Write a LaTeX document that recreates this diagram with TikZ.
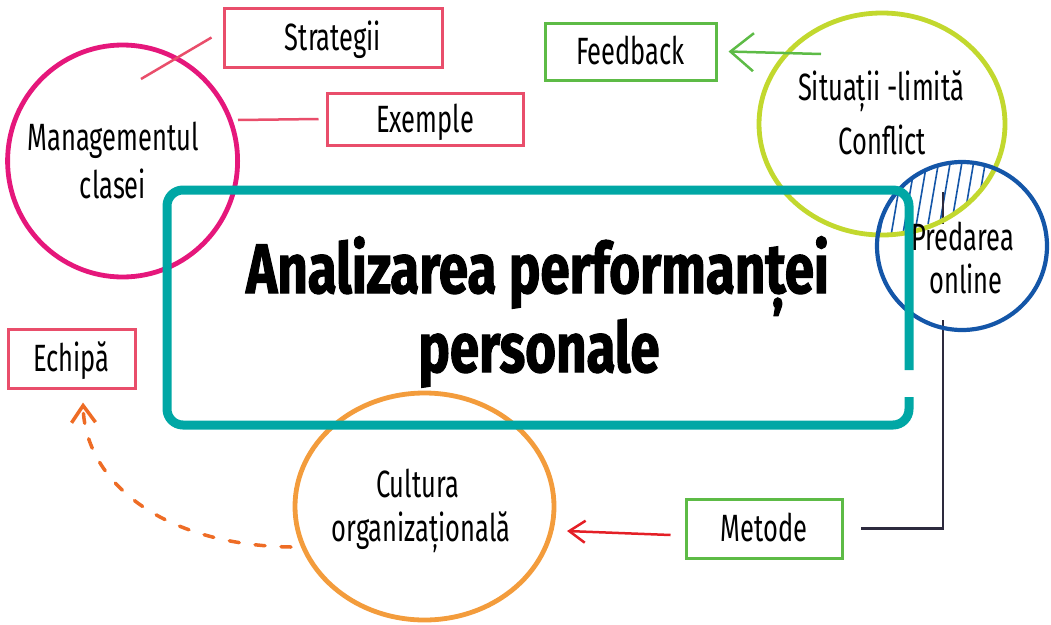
\documentclass[tikz,border=0pt]{standalone}
\usepackage{fontspec}
\usetikzlibrary{shapes.geometric,arrows.meta}
\newfontfamily\lab{Fira Sans}[FakeStretch=0.67]
\newfontfamily\ttl{Fira Sans}[FakeStretch=0.755, FakeBold=1.5]
\definecolor{magC}{HTML}{E5177B}
\definecolor{pinkC}{HTML}{E94E6B}
\definecolor{tealC}{HTML}{00A7A5}
\definecolor{limeC}{HTML}{C2D82E}
\definecolor{blueC}{HTML}{1456A8}
\definecolor{greenC}{HTML}{5DBB46}
\definecolor{orangeC}{HTML}{F39C3C}
\definecolor{dorangeC}{HTML}{EE6C25}
\definecolor{redC}{HTML}{E41F26}
\definecolor{darkC}{HTML}{2D2A3E}
\tikzset{
  ring/.style={ellipse, draw, line width=4.8pt, inner sep=0pt},
  labelbox/.style={rectangle, draw, line width=3pt, inner sep=0pt,
    text height=26pt, text depth=0pt, font=\lab\fontsize{38}{42}\selectfont},
  lbl/.style={inner sep=0pt, anchor=base, font=\lab\fontsize{38}{42}\selectfont},
  ttlline/.style={inner sep=0pt, anchor=base, font=\ttl\bfseries\fontsize{70}{79}\selectfont},
  pinkline/.style={draw=pinkC, line width=2.5pt},
  hatchline/.style={draw=blueC, line width=1.6pt},
}
\begin{document}
\begin{tikzpicture}[x=1pt,y=-1pt]
\useasboundingbox (0,0) rectangle (1051,624);

% hatched overlap of the two right circles
\begin{scope}
  \clip (882,124) ellipse [x radius=123, y radius=111];
  \clip (962,246) ellipse [x radius=85, y radius=84];
  \foreach \i in {0,...,13} \draw[hatchline] ({866+11.7*\i},245) -- ({883+11.7*\i},145);
\end{scope}

% named coordinates for free connector ends
\coordinate (prTop) at (943,192);
\coordinate (sEnd) at (141,79);
\coordinate (eStart) at (238,120);
\coordinate (fbStart) at (821,54);
\coordinate (culTip) at (567,531);
\coordinate (dStart) at (291,547);

% boxes
\node[labelbox, draw=pinkC, minimum width=218pt, minimum height=59pt] (str) at (333,37.5) {Strategii};
\node[labelbox, draw=pinkC, minimum width=196pt, minimum height=52pt] (exm) at (425,119) {Exemple};
\node[labelbox, draw=greenC, minimum width=171pt, minimum height=57pt] (fb) at (630.5,51.5) {Feedback};
\node[labelbox, draw=greenC, minimum width=156pt, minimum height=59pt] (met) at (764,528.5) {Metode};
\node[labelbox, draw=pinkC, minimum width=127pt, minimum height=59pt] (ech) at (71.5,358.5) {Echipă};

% dark connector Predarea -> Metode
\draw[darkC, line width=2.5pt] (prTop) |- ([xshift=17pt]met.east);
% white background of the Predarea label
\node[fill=white, minimum width=80pt, minimum height=96pt, inner sep=0pt] (preBg) at (965,272) {};

% circles
\node[ring, draw=magC, minimum width=230pt, minimum height=232pt] (mc) at (122.6,161) {};
\node[ring, draw=limeC, minimum width=246pt, minimum height=222pt] (sit) at (882,124) {};
\node[ring, draw=blueC, line width=4.2pt, minimum width=170pt, minimum height=168pt] (pre) at (962,246) {};
\node[ring, draw=orangeC, minimum width=259pt, minimum height=227pt] (cul) at (424.5,506.5) {};

% connectors
\draw[pinkline] ([xshift=-11pt]str.west) -- (sEnd);
\draw[pinkline] (eStart) -- ([xshift=-7pt]exm.west);
\draw[greenC, line width=2.5pt, -{Straight Barb[length=23pt,width=38pt]}] (fbStart) -- ([xshift=11pt]fb.east);
\draw[redC, line width=2.5pt, -{Straight Barb[length=16pt,width=22pt]}] ([xshift=-14pt,yshift=-6.5pt]met.west) -- (culTip);
\draw[dorangeC, line width=3.5pt, line cap=round, dash pattern=on 10pt off 16pt,
  -{Straight Barb[length=17pt,width=24pt]}]
  (dStart) .. controls (160,545) and (85,480) .. ([xshift=11.5pt,yshift=-13pt]ech.south);

% main frame
\draw[tealC, line width=9pt, rounded corners=16pt]
  (909,370) -- (909,190) -- (167,190) -- (167,425) -- (909,425) -- (909,397);

% texts
\node[lbl] (mcA) at (113,150) {Managementul};
\node[lbl] (mcB) at (113,198) {clasei};
\node[lbl] (sitA) at (881,100) {Situații -limită};
\node[lbl] (sitB) at (882,154) {Conflict};
\node[lbl] (preA) at (962.5,250) {Predarea};
\node[lbl] (preB) at (966,293) {online};
\node[lbl] (culA) at (417.5,497) {Cultura};
\node[lbl] (culB) at (421,541) {organizațională};
\node[ttlline] (tA) at (537.5,293) {Analizarea performanței};
\node[ttlline] (tB) at (539,372) {personale};
\end{tikzpicture}
\end{document}
